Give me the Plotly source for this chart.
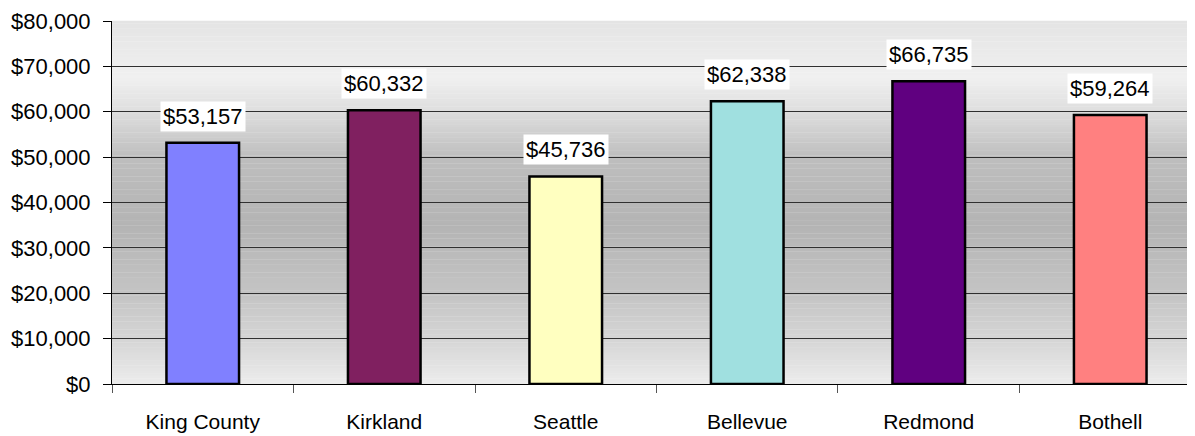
import plotly.graph_objects as go
import numpy as np

categories = ["King County", "Kirkland", "Seattle", "Bellevue", "Redmond", "Bothell"]
values = [53157, 60332, 45736, 62338, 66735, 59264]
bar_colors = ["#8080FF", "#802060", "#FFFFC0", "#A0E0E0", "#600080", "#FF8080"]
label_texts = ["$53,157", "$60,332", "$45,736", "$62,338", "$66,735", "$59,264"]
tick_vals = [0, 10000, 20000, 30000, 40000, 50000, 60000, 70000, 80000]
tick_texts = ["$0", "$10,000", "$20,000", "$30,000", "$40,000", "$50,000", "$60,000", "$70,000", "$80,000"]

FONT = "Liberation Sans"

fig = go.Figure()
fig.add_trace(go.Bar(
    x=categories, y=values, width=0.4,
    marker=dict(color=bar_colors, line=dict(color="black", width=2.5)),
    hoverinfo="skip",
))

# background gradient (fraction from top of plot, gray level)
stops_f = [0.0, 0.157, 0.25, 0.376, 0.563, 0.75, 0.876, 1.0]
stops_g = [228, 240, 222, 190, 180, 196, 213, 236]
n = 140
shapes = []
for i in range(n):
    f0 = i / n
    f1 = (i + 1) / n
    g = int(round(np.interp((f0 + f1) / 2, stops_f, stops_g)))
    shapes.append(dict(type="rect", xref="x domain", yref="y domain",
                       x0=0, x1=1, y0=1 - f1, y1=1 - f0 + 0.001,
                       fillcolor=f"rgb({g},{g},{g})", line=dict(width=0),
                       layer="below"))

annotations = []
for c, v, t in zip(categories, values, label_texts):
    annotations.append(dict(x=c, y=v, text=t, showarrow=False, yshift=26.5,
                            bgcolor="white", font=dict(family=FONT, size=22, color="black"),
                            borderpad=2))

fig.update_layout(
    width=1187, height=428,
    margin=dict(l=104, r=0, t=13, b=52, autoexpand=False),
    paper_bgcolor="white", plot_bgcolor="rgba(0,0,0,0)",
    showlegend=False,
    shapes=shapes, annotations=annotations,
    font=dict(family=FONT, size=21, color="black"),
    bargap=0.6,
)
fig.update_yaxes(range=[0, 80000], tickvals=tick_vals, ticktext=tick_texts,
                 showgrid=True, gridcolor="#303030", gridwidth=1,
                 showline=True, linecolor="black", linewidth=1,
                 ticks="outside", ticklen=8, tickcolor="black",
                 zeroline=False, tickfont=dict(family=FONT, size=22), ticklabelstandoff=8,
                 ticklabeloverflow="allow", automargin=False)
fig.update_xaxes(range=[-0.5, 5.467], showline=True, linecolor="black", linewidth=1,
                 ticks="outside", ticklen=8, tickcolor="#555", tickson="boundaries",
                 showgrid=False, tickfont=dict(family=FONT, size=21), ticklabelstandoff=19,
                 ticklabeloverflow="allow", automargin=False)

fig.write_html("out.html")
